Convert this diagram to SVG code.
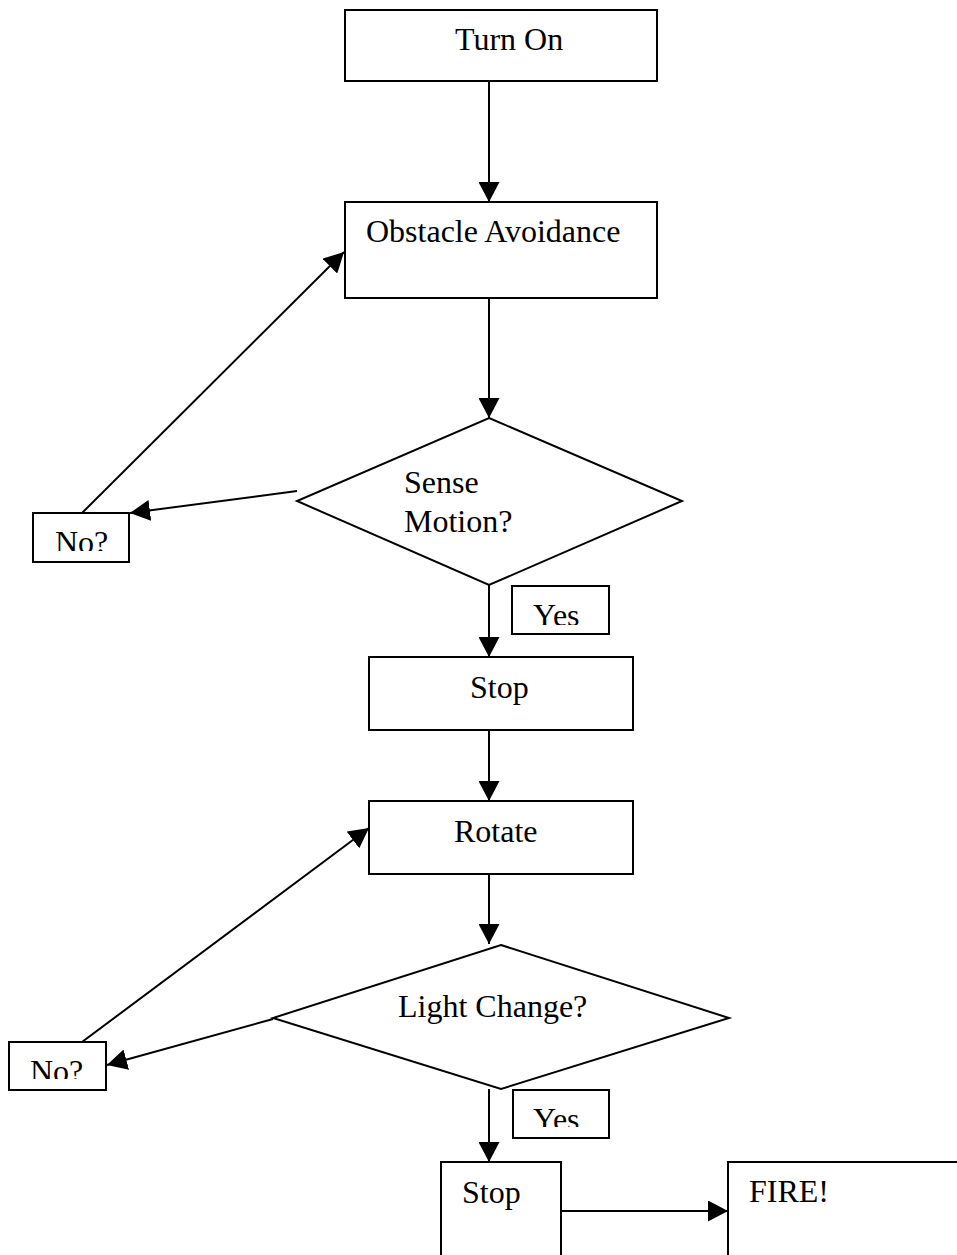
<svg xmlns="http://www.w3.org/2000/svg" width="957" height="1255" viewBox="0 0 957 1255">
<style>
.box{fill:#fff;stroke:#000;stroke-width:2}
.t{font-family:"Liberation Serif","Times New Roman",serif;font-size:32px;fill:#000}
.c{stroke:#000;stroke-width:2;fill:none;marker-end:url(#ah)}
</style>
<defs>
<marker id="ah" markerUnits="userSpaceOnUse" markerWidth="20" markerHeight="21" refX="20" refY="10.5" orient="auto" viewBox="0 0 20 21">
<path d="M0,0 L20,10.5 L0,21 z" fill="#000"/>
</marker>
<clipPath id="cNo1"><rect x="33" y="513" width="96" height="38"/></clipPath>
<clipPath id="cYes1"><rect x="512" y="586" width="97" height="39"/></clipPath>
<clipPath id="cNo2"><rect x="9" y="1042" width="97" height="37"/></clipPath>
<clipPath id="cYes2"><rect x="513" y="1090" width="96" height="37"/></clipPath>
</defs>
<g id="connectors">
<line class="c" x1="489" y1="81" x2="489" y2="202"/>
<line class="c" x1="489" y1="298" x2="489" y2="418"/>
<line class="c" x1="297" y1="491" x2="130" y2="513"/>
<line class="c" x1="82" y1="513" x2="344" y2="252"/>
<line class="c" x1="489" y1="585" x2="489" y2="657"/>
<line class="c" x1="489" y1="730" x2="489" y2="801"/>
<line class="c" x1="489" y1="874" x2="489" y2="944"/>
<line class="c" x1="273" y1="1019" x2="107" y2="1065"/>
<line class="c" x1="82" y1="1042" x2="369" y2="828"/>
<line class="c" x1="489" y1="1089" x2="489" y2="1162"/>
<line class="c" x1="561" y1="1211" x2="728" y2="1211"/>
</g>
<g id="turnon">
<rect class="box" x="345" y="10" width="312" height="71"/>
<text class="t" x="455" y="50">Turn On</text>
</g>
<g id="obstacle">
<rect class="box" x="345" y="202" width="312" height="96"/>
<text class="t" x="366" y="242">Obstacle Avoidance</text>
</g>
<g id="sense">
<polygon class="box" points="489,418 682,501 489,585 297,501"/>
<text class="t" x="404" y="493">Sense</text>
<text class="t" x="404" y="532">Motion?</text>
</g>
<g id="no1">
<rect class="box" x="33" y="513" width="96" height="49"/>
<text class="t" x="55" y="553" clip-path="url(#cNo1)">No?</text>
</g>
<g id="yes1">
<rect class="box" x="512" y="586" width="97" height="48"/>
<text class="t" x="533" y="626" clip-path="url(#cYes1)">Yes</text>
</g>
<g id="stop1">
<rect class="box" x="369" y="657" width="264" height="73"/>
<text class="t" x="470" y="698">Stop</text>
</g>
<g id="rotate">
<rect class="box" x="369" y="801" width="264" height="73"/>
<text class="t" x="454" y="842">Rotate</text>
</g>
<g id="light">
<polygon class="box" points="501,945 729,1018 501,1089 273,1018"/>
<text class="t" x="398" y="1017">Light Change?</text>
</g>
<g id="no2">
<rect class="box" x="9" y="1042" width="97" height="48"/>
<text class="t" x="30" y="1082" clip-path="url(#cNo2)">No?</text>
</g>
<g id="yes2">
<rect class="box" x="513" y="1090" width="96" height="48"/>
<text class="t" x="533" y="1130" clip-path="url(#cYes2)">Yes</text>
</g>
<g id="stop2">
<rect class="box" x="441" y="1162" width="120" height="110"/>
<text class="t" x="462" y="1203">Stop</text>
</g>
<g id="fire">
<rect class="box" x="728" y="1162" width="250" height="110"/>
<text class="t" x="749" y="1202">FIRE!</text>
</g>
</svg>
